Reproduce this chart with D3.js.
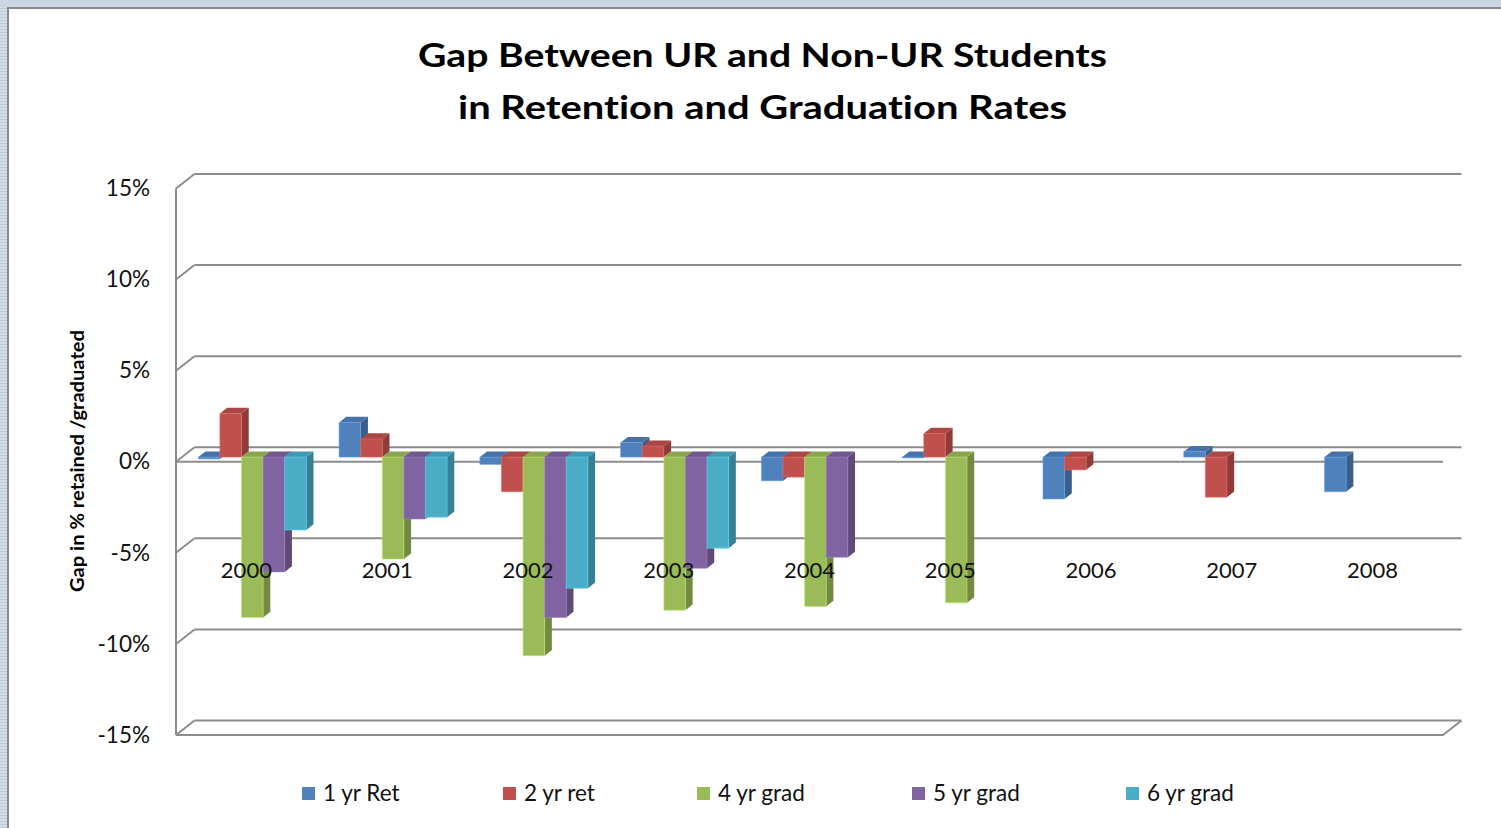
<!DOCTYPE html>
<html><head><meta charset="utf-8">
<script src="https://cdn.jsdelivr.net/npm/d3@7"></script>
<style>html,body{margin:0;padding:0;background:#fff;} svg{display:block;} text{font-variant-ligatures:none;}</style>
</head><body>
<svg id="chart" width="1501" height="828"></svg>
<script>
// ---------- data ----------
const categories = ["2000","2001","2002","2003","2004","2005","2006","2007","2008"];
const seriesNames = ["1 yr Ret","2 yr ret","4 yr grad","5 yr grad","6 yr grad"];
const ret1  = [-0.1, 1.9, -0.4, 0.8, -1.3, -0.05, -2.3, 0.3, -1.9];
const ret2  = [2.4, 1.0, -1.9, 0.6, -1.1, 1.3, -0.7, -2.2, null];
const grad4 = [-8.8, -5.6, -10.9, -8.4, -8.2, -8.0, null, null, null];
const grad5 = [-6.3, -3.4, -8.8, -6.1, -5.5, null, null, null, null];
const grad6 = [-4.0, -3.3, -7.2, -5.0, null, null, null, null, null];
const yTicks = [-15, -10, -5, 0, 5, 10, 15];
const titleLines = ["Gap Between UR and Non-UR Students", "in Retention and Graduation Rates"];
const yTitle = "Gap in % retained /graduated";
const seriesColors = ["#4F81BD","#C0504D","#9BBB59","#8064A2","#4BACC6"];

const seriesValues = [ret1, ret2, grad4, grad5, grad6];

// ---------- layout ----------
const W = 1501, H = 828;
const svg = d3.select("#chart");
const FONT = "Lato, 'Open Sans', sans-serif";

// outer background with stripes
const defs = svg.append("defs");
const pat = defs.append("pattern").attr("id","stripes").attr("patternUnits","userSpaceOnUse")
  .attr("width", 6).attr("height", 3);
pat.append("rect").attr("width",6).attr("height",3).attr("fill","#d3dde8");
pat.append("rect").attr("y",2).attr("width",6).attr("height",1).attr("fill","#bccbdb");
svg.append("rect").attr("width",W).attr("height",H).attr("fill","url(#stripes)");
svg.append("rect").attr("x",0).attr("y",0).attr("width",W).attr("height",7).attr("fill","#cbd7e4");
svg.append("rect").attr("x",8).attr("y",8).attr("width",W).attr("height",H)
  .attr("fill","#fff").attr("stroke","#8a8a8a").attr("stroke-width",2);

// scales (front plane)
const xBand = d3.scaleBand().domain(categories).range([176, 1443]);
const xSub = d3.scaleBand().domain(seriesNames).range([16.4, xBand.bandwidth() - 16.4]);
const y = d3.scaleLinear().domain([-15, 15]).range([735, 188.5]);
const DX = 18.5, DY = 14.5;
const P = (x, v, d) => [x + d * DX, y(v) - d * DY];
const xL = xBand.range()[0], xR = xBand.range()[1];

// ---------- gridlines / walls ----------
const grid = svg.append("g").attr("stroke","#8c8c8c").attr("stroke-width",2).attr("fill","none");
const line = d3.line();
yTicks.forEach(v => {
  grid.append("path").attr("d", line([P(xL, v, 1), P(xR, v, 1)]));
  grid.append("path").attr("d", line([P(xL, v, 0), P(xL, v, 1)]));
});
grid.append("path").attr("d", line([P(xL, 15, 0), P(xL, -15, 0)]));
grid.append("path").attr("d", line([P(xL, 0, 0), P(xR, 0, 0)]));
grid.append("path").attr("d", line([P(xL, -15, 0), P(xR, -15, 0), P(xR, -15, 1)]));

// ---------- bars ----------
const D1 = 0.32, D2 = 0.71;
const bars = svg.append("g");
categories.forEach((cat, ci) => {
  seriesNames.forEach((s, si) => {
    const v = seriesValues[si][ci];
    if (v === null || v === undefined) return;
    const x0 = xBand(cat) + xSub(s), w = xSub.bandwidth();
    const top = Math.max(v, 0), bot = Math.min(v, 0);
    const c = d3.color(seriesColors[si]);
    const side = [P(x0 + w, top, D1), P(x0 + w, top, D2), P(x0 + w, bot, D2), P(x0 + w, bot, D1)];
    const topF = [P(x0, top, D1), P(x0, top, D2), P(x0 + w, top, D2), P(x0 + w, top, D1)];
    const front = [P(x0, top, D1), P(x0 + w, top, D1), P(x0 + w, bot, D1), P(x0, bot, D1)];
    const g = bars.append("g");
    g.append("path").attr("d", line(side) + "Z").attr("fill", c.darker(0.85));
    g.append("path").attr("d", line(topF) + "Z").attr("fill", c.darker(0.35));
    g.append("path").attr("d", line(front) + "Z").attr("fill", c)
      .attr("stroke", c.brighter(0.6)).attr("stroke-width", 0.6);
  });
});

// ---------- category labels ----------
svg.append("g").selectAll("text").data(categories).join("text")
  .attr("x", d => xBand(d) + xBand.bandwidth() / 2)
  .attr("y", 578)
  .attr("text-anchor", "middle")
  .attr("font-family", FONT).attr("font-size", 22).attr("fill", "#111")
  .text(d => d);

// ---------- y axis labels ----------
const yAxis = d3.axisLeft(y).tickValues(yTicks).tickFormat(d => d + "%").tickSize(0).tickPadding(0);
const ya = svg.append("g").attr("transform", "translate(150,0)").call(yAxis);
ya.select(".domain").remove();
ya.selectAll("text").attr("font-family", FONT).attr("font-size", 22.5).attr("fill", "#111");

// y title
svg.append("text")
  .attr("transform", "translate(84,461) rotate(-90)")
  .attr("text-anchor", "middle")
  .attr("font-family", FONT).attr("font-weight", "bold").attr("font-size", 18).attr("fill", "#000")
  .attr("textLength", 262).attr("lengthAdjust", "spacingAndGlyphs")
  .text(yTitle);

// ---------- title ----------
const tLens = [689, 609];
const tBase = [67, 119];
titleLines.forEach((t, i) => {
  svg.append("text").attr("x", 762.5).attr("y", tBase[i]).attr("text-anchor", "middle")
    .attr("font-family", FONT).attr("font-weight", "bold").attr("font-size", 33).attr("fill", "#000")
    .attr("textLength", tLens[i]).attr("lengthAdjust", "spacingAndGlyphs")
    .text(t);
});

// ---------- legend ----------
const legX = [302, 503, 697, 912, 1126];
const leg = svg.append("g");
seriesNames.forEach((s, i) => {
  leg.append("rect").attr("x", legX[i]).attr("y", 787).attr("width", 13).attr("height", 13)
    .attr("fill", seriesColors[i]);
  leg.append("text").attr("x", legX[i] + 21).attr("y", 801)
    .attr("font-family", FONT).attr("font-size", 22.5).attr("fill", "#111").text(s);
});
</script>
</body></html>
